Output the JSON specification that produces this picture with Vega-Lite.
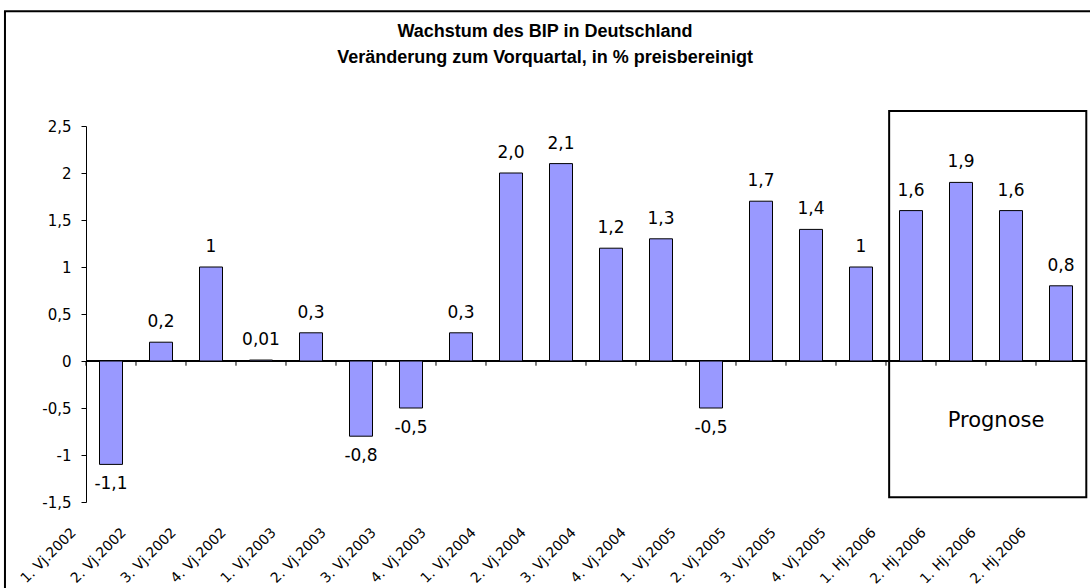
{
  "$schema": "https://vega.github.io/schema/vega-lite/v6.json",
  "width": 1000,
  "height": 376,
  "autosize": "none",
  "padding": {"left": 86, "top": 126, "right": 4, "bottom": 86},
  "background": "white",
  "config": {"view": {"stroke": null}},
  "title": {
    "text": "Wachstum des BIP in Deutschland",
    "subtitle": "Veränderung zum Vorquartal, in % preisbereinigt",
    "anchor": "middle",
    "dx": -41,
    "font": "Liberation Sans",
    "fontSize": 18,
    "fontWeight": "bold",
    "color": "black",
    "subtitleFont": "Liberation Sans",
    "subtitleFontSize": 18,
    "subtitleFontWeight": "bold",
    "subtitleColor": "black",
    "subtitlePadding": 8,
    "offset": -57
  },
  "data": {
    "values": [
      {"q": "1. Vj.2002", "v": -1.1, "t": "-1,1"},
      {"q": "2. Vj.2002", "v": 0.2, "t": "0,2"},
      {"q": "3. Vj.2002", "v": 1.0, "t": "1"},
      {"q": "4. Vj.2002", "v": 0.01, "t": "0,01"},
      {"q": "1. Vj.2003", "v": 0.3, "t": "0,3"},
      {"q": "2. Vj.2003", "v": -0.8, "t": "-0,8"},
      {"q": "3. Vj.2003", "v": -0.5, "t": "-0,5"},
      {"q": "4. Vj.2003", "v": 0.3, "t": "0,3"},
      {"q": "1. Vj.2004", "v": 2.0, "t": "2,0"},
      {"q": "2. Vj.2004", "v": 2.1, "t": "2,1"},
      {"q": "3. Vj.2004", "v": 1.2, "t": "1,2"},
      {"q": "4. Vj.2004", "v": 1.3, "t": "1,3"},
      {"q": "1. Vj.2005", "v": -0.5, "t": "-0,5"},
      {"q": "2. Vj.2005", "v": 1.7, "t": "1,7"},
      {"q": "3. Vj.2005", "v": 1.4, "t": "1,4"},
      {"q": "4. Vj.2005", "v": 1.0, "t": "1"},
      {"q": "1. Hj.2006", "v": 1.6, "t": "1,6"},
      {"q": "2. Hj.2006", "v": 1.9, "t": "1,9"},
      {"q": "1. Hj.2006 ", "v": 1.6, "t": "1,6"},
      {"q": "2. Hj.2006 ", "v": 0.8, "t": "0,8"}
    ]
  },
  "encoding": {
    "x": {
      "field": "q",
      "type": "nominal",
      "sort": null,
      "scale": {"paddingInner": 0.54, "paddingOuter": 0.27},
      "axis": {
        "title": null,
        "domain": false,
        "ticks": false,
        "tickSize": 0,
        "labelAngle": -45,
        "labelAlign": "right",
        "labelBaseline": "middle",
        "labelOffset": -37,
        "labelPadding": 28,
        "labelFont": "DejaVu Sans",
        "labelFontSize": 14,
        "labelColor": "black"
      }
    }
  },
  "layer": [
    {
      "mark": {"type": "rule", "color": "black", "strokeWidth": 1},
      "encoding": {"x": null, "y": {"datum": 0, "type": "quantitative"}}
    },
    {
      "mark": {"type": "rule", "color": "black", "strokeWidth": 1},
      "encoding": {
        "x": {"field": "q", "type": "nominal", "sort": null, "bandPosition": -0.587},
        "y": {"datum": 0, "type": "quantitative"},
        "y2": {"datum": -0.05}
      }
    },
    {
      "mark": {"type": "bar", "fill": "#9999FF", "stroke": "black", "strokeWidth": 1},
      "encoding": {
        "y": {
          "field": "v",
          "type": "quantitative",
          "scale": {"domain": [-1.5, 2.5], "nice": false, "zero": false},
          "axis": {
            "title": null,
            "grid": false,
            "values": [-1.5, -1, -0.5, 0, 0.5, 1, 1.5, 2, 2.5],
            "labelExpr": "replace(toString(datum.value), '.', ',')",
            "domainColor": "black",
            "tickColor": "black",
            "tickSize": 5,
            "labelPadding": 10,
            "labelFont": "DejaVu Sans",
            "labelFontSize": 15,
            "labelColor": "black"
          }
        }
      }
    },
    {
      "transform": [{"filter": "datum.v >= 0"}],
      "mark": {"type": "text", "baseline": "middle", "dy": -20, "font": "DejaVu Sans", "fontSize": 17, "color": "black"},
      "encoding": {"y": {"field": "v", "type": "quantitative"}, "text": {"field": "t"}}
    },
    {
      "transform": [{"filter": "datum.v < 0"}],
      "mark": {"type": "text", "baseline": "middle", "dy": 20, "font": "DejaVu Sans", "fontSize": 17, "color": "black"},
      "encoding": {"y": {"field": "v", "type": "quantitative"}, "text": {"field": "t"}}
    },
    {
      "data": {"values": [{"from": "1. Hj.2006", "to": "2. Hj.2006 ", "mid": "1. Hj.2006 ", "top": 2.66, "bottom": -1.45, "textY": -0.64, "label": "Prognose"}]},
      "layer": [
        {
          "mark": {"type": "rect", "fill": null, "stroke": "black", "strokeWidth": 2},
          "encoding": {
            "x": {"field": "from", "type": "nominal", "sort": null, "bandPosition": -0.45},
            "x2": {"field": "to", "bandPosition": 1.6},
            "y": {"field": "top", "type": "quantitative"},
            "y2": {"field": "bottom"}
          }
        },
        {
          "mark": {"type": "text", "font": "DejaVu Sans", "fontSize": 21, "color": "black", "baseline": "middle"},
          "encoding": {
            "x": {"field": "mid", "type": "nominal", "sort": null, "bandPosition": -0.15},
            "y": {"field": "textY", "type": "quantitative"},
            "text": {"field": "label"}
          }
        }
      ]
    },
    {
      "data": {"values": [{"first": "1. Vj.2002", "last": "2. Hj.2006 ", "top": 3.72, "bottom": -2.6}]},
      "mark": {"type": "rect", "fill": null, "stroke": "black", "strokeWidth": 2},
      "encoding": {
        "x": {"field": "first", "type": "nominal", "sort": null, "bandPosition": -4.11},
        "x2": {"field": "last", "bandPosition": 2.0},
        "y": {"field": "top", "type": "quantitative"},
        "y2": {"field": "bottom"}
      }
    }
  ]
}
